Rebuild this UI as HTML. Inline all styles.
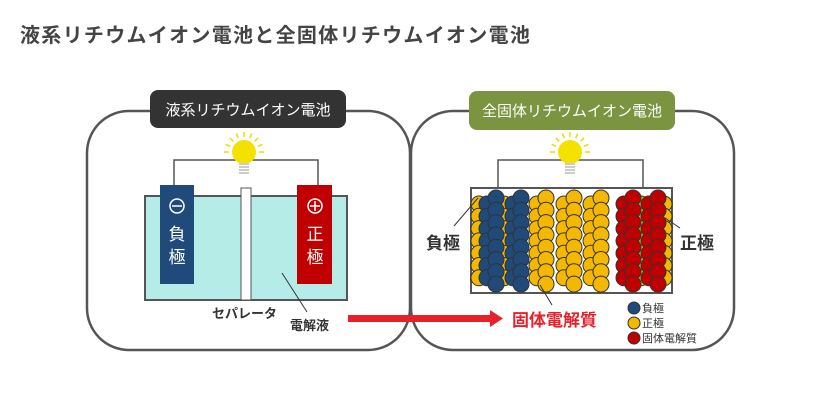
<!DOCTYPE html>
<html><head><meta charset="utf-8"><style>
html,body{margin:0;padding:0;background:#fff;width:820px;height:416px;overflow:hidden}
svg text{font-family:"Liberation Sans","Noto Sans CJK JP",sans-serif}
</style></head><body>
<svg id="s" width="820" height="416" viewBox="0 0 820 416" xmlns="http://www.w3.org/2000/svg">
<text x="20" y="42" font-size="20" font-weight="bold" fill="#444" letter-spacing="1.3">液系リチウムイオン電池と全固体リチウムイオン電池</text>
<rect x="87" y="111" width="323" height="239" rx="42" fill="#fff" stroke="#555" stroke-width="2.5"/>
<rect x="411" y="111" width="323" height="239" rx="42" fill="#fff" stroke="#555" stroke-width="2.5"/>
<rect x="150" y="90" width="196" height="38" rx="8" fill="#333"/>
<text x="248" y="115" font-size="15" fill="#fff" text-anchor="middle">液系リチウムイオン電池</text>
<rect x="469" y="91" width="206" height="39" rx="8" fill="#7a9440"/>
<text x="572" y="116" font-size="15" fill="#fff" text-anchor="middle">全固体リチウムイオン電池</text>
<polyline points="174,186 174,160 318,160 318,186" fill="none" stroke="#555" stroke-width="1.5"/>
<rect x="145" y="196" width="202" height="104" fill="#b6ece8" stroke="#555" stroke-width="2"/>
<rect x="160" y="185" width="34" height="99" fill="#1f4a7a"/>
<rect x="297" y="185" width="35" height="99" fill="#c00000"/>
<rect x="241" y="188" width="10" height="112" fill="#fff" stroke="#555" stroke-width="1"/>
<circle cx="177" cy="206" r="7" fill="none" stroke="#fff" stroke-width="1.5"/><line x1="172" y1="206" x2="182" y2="206" stroke="#fff" stroke-width="1.5"/>
<circle cx="315" cy="206" r="7" fill="none" stroke="#fff" stroke-width="1.5"/><line x1="310" y1="206" x2="320" y2="206" stroke="#fff" stroke-width="1.5"/><line x1="315" y1="201" x2="315" y2="211" stroke="#fff" stroke-width="1.5"/>
<text x="177" y="240" font-size="17" fill="#fff" text-anchor="middle">負</text>
<text x="177" y="263" font-size="17" fill="#fff" text-anchor="middle">極</text>
<text x="315" y="240" font-size="17" fill="#fff" text-anchor="middle">正</text>
<text x="315" y="263" font-size="17" fill="#fff" text-anchor="middle">極</text>
<line x1="282" y1="273" x2="307" y2="312" stroke="#333" stroke-width="1"/>
<text x="212" y="318" font-size="13" font-weight="bold" fill="#333">セパレータ</text>
<text x="290" y="330" font-size="13" font-weight="bold" fill="#333">電解液</text>
<rect x="348" y="315" width="142" height="7" fill="#e8202a"/>
<polygon points="490,310 503,318.5 490,327" fill="#e8202a"/>
<polyline points="498,190 498,160 643,160 643,190" fill="none" stroke="#555" stroke-width="1.5"/>
<rect x="471" y="188" width="201" height="105" fill="#fff" stroke="#555" stroke-width="2"/>
<g id="parts"></g>
<line x1="478" y1="198" x2="454" y2="226" stroke="#333" stroke-width="1"/>
<line x1="665" y1="218" x2="680" y2="228" stroke="#333" stroke-width="1"/>
<line x1="540" y1="285" x2="552" y2="305" stroke="#333" stroke-width="1"/>
<text x="426" y="249" font-size="17" font-weight="bold" fill="#333">負極</text>
<text x="680" y="249" font-size="17" font-weight="bold" fill="#333">正極</text>
<text x="512" y="326" font-size="17" font-weight="bold" fill="#e8202a">固体電解質</text>
<circle cx="634" cy="308" r="6" fill="#1f4a7a" stroke="#333"/>
<circle cx="634" cy="323" r="6" fill="#f5b800" stroke="#333"/>
<circle cx="634" cy="338" r="6" fill="#c00000" stroke="#333"/>
<text x="642" y="312" font-size="11" fill="#333">負極</text>
<text x="642" y="327" font-size="11" fill="#333">正極</text>
<text x="642" y="342" font-size="11" fill="#333">固体電解質</text>
</svg>
<script>
var s=document.getElementById('s'),NS="http://www.w3.org/2000/svg";
function el(t,a,p){var e=document.createElementNS(NS,t);for(var k in a)e.setAttribute(k,a[k]);(p||s).appendChild(e);return e;}
function bulb(cx,cy){
 for(var i=0;i<9;i++){var ang=Math.PI+i*Math.PI/8;var c=Math.cos(ang),sn=Math.sin(ang);
  if(sn>0.3)continue;
  el('line',{x1:cx+c*15,y1:cy+sn*15,x2:cx+c*20,y2:cy+sn*20,stroke:'#f0d800','stroke-width':1.5});}
 el('circle',{cx:cx,cy:cy,r:12,fill:'#f5e100'});
 for(var j=0;j<4;j++)el('rect',{x:cx-5,y:cy+11+j*3,width:10,height:2,fill:'#ccc'});
}
bulb(244,152);bulb(570,152);
var g=document.getElementById('parts');
var Y='#f5b800',B='#1f4a7a',R='#c00000';
function col(x,c,off){for(var r=0;r<8;r++){var y=198+r*12.3+(off?6:0);if(y>287)continue;el('circle',{cx:x,cy:y,r:8,fill:c,stroke:'#333','stroke-width':1},g);}}
col(479,Y,1);col(504,Y,1);col(664,Y,1);col(641,Y,1);
col(487,B,1);col(496,B,0);col(513,B,1);col(521,B,0);
col(537,Y,1);col(546,Y,0);col(564,Y,1);col(574,Y,0);col(591,Y,1);col(601,Y,0);
col(624,R,1);col(633,R,0);col(649,R,1);col(658,R,0);
</script>
</body></html>
